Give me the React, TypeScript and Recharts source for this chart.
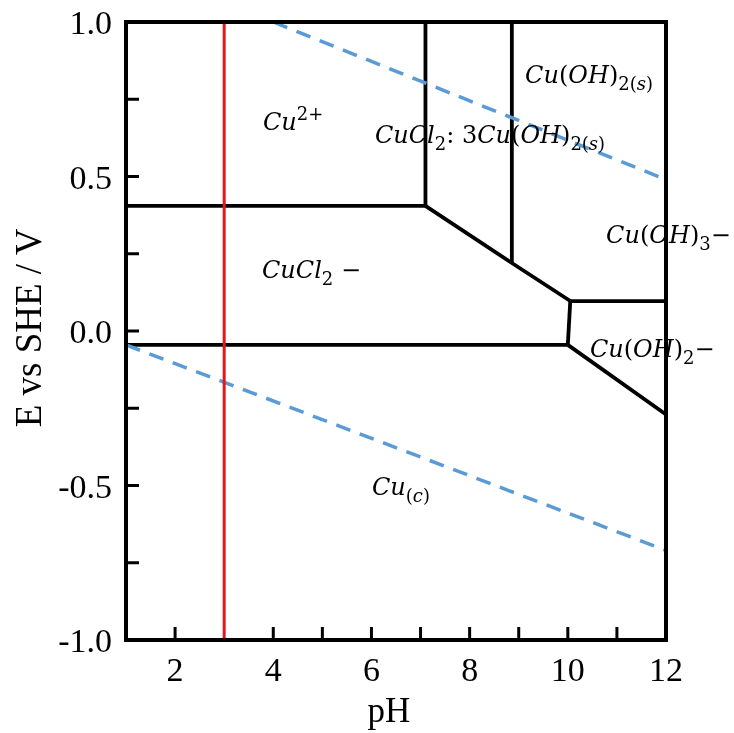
import React from 'react';
import { ComposedChart, Line, Scatter, XAxis, YAxis } from 'recharts';

// ---- axis ticks ----
const pHTicks = [2, 3, 4, 5, 6, 7, 8, 9, 10, 11, 12];
const pHLabels = [2, 4, 6, 8, 10, 12];
const eTicks = [-1, -0.75, -0.5, -0.25, 0, 0.25, 0.5, 0.75, 1];
const eLabels = [-1, -0.5, 0, 0.5, 1];

// ---- boundary lines (pH, E) ----
const cu2CuCl2Boundary = [{ x: 1, y: 0.405 }, { x: 7.1, y: 0.405 }];
const cu2BasicBoundary = [{ x: 7.1, y: 1 }, { x: 7.1, y: 0.405 }];
const basicHydroxideBoundary = [{ x: 8.86, y: 1 }, { x: 8.86, y: 0.22 }];
const cuCl2SolidBoundary = [{ x: 7.1, y: 0.405 }, { x: 8.86, y: 0.22 }, { x: 10.05, y: 0.097 }];
const hydroxide3Boundary = [{ x: 10.05, y: 0.097 }, { x: 12, y: 0.097 }];
const cuCl2Hydroxide2Boundary = [{ x: 10.05, y: 0.097 }, { x: 10.0, y: -0.045 }];
const cuCl2CuBoundary = [{ x: 1, y: -0.045 }, { x: 10.0, y: -0.045 }];
const hydroxide2CuBoundary = [{ x: 10.0, y: -0.045 }, { x: 12, y: -0.27 }];

// ---- water stability lines ----
const oxygenLine = [{ x: 4, y: 1 }, { x: 12, y: 0.49 }];
const hydrogenLine = [{ x: 1, y: -0.045 }, { x: 12, y: -0.71 }];

// ---- pH marker ----
const pHMarker = [{ x: 3, y: -1 }, { x: 3, y: 1 }];

// ---- region labels ----
const regionLabels = [
  { x: 3.79, y: 0.65, text: 'Cu^{2+}' },
  { x: 6.07, y: 0.608, text: 'CuCl_{2}: 3Cu(OH)_{2(s)}' },
  { x: 9.13, y: 0.803, text: 'Cu(OH)_{2(s)}' },
  { x: 10.78, y: 0.285, text: 'Cu(OH)_{3}\u2212' },
  { x: 3.77, y: 0.171, text: 'CuCl_{2} \u2212' },
  { x: 10.45, y: -0.084, text: 'Cu(OH)_{2}\u2212' },
  { x: 6.01, y: -0.531, text: 'Cu_{(c)}' },
];

const SERIF = '"Liberation Serif", "Times New Roman", serif';
const MATH = '"DejaVu Serif", serif';
const TICK = 13;
const MAIN_SIZE = 24;
const SUB_SIZE = 18;

function parseMarkup(s: string) {
  const out: { text: string; mode: string }[] = [];
  let i = 0;
  let buf = '';
  while (i < s.length) {
    if ((s[i] === '_' || s[i] === '^') && s[i + 1] === '{') {
      if (buf) out.push({ text: buf, mode: 'n' });
      buf = '';
      const end = s.indexOf('}', i);
      out.push({ text: s.slice(i + 2, end), mode: s[i] === '_' ? 'sub' : 'sup' });
      i = end + 1;
    } else {
      buf += s[i];
      i++;
    }
  }
  if (buf) out.push({ text: buf, mode: 'n' });
  return out;
}

function MathLabel(props: any) {
  const { cx, cy, payload } = props;
  if (cx == null || cy == null) return null;
  const segs = parseMarkup(payload.text);
  const spans: any[] = [];
  let cur = 0;
  let k = 0;
  segs.forEach((seg) => {
    const target = seg.mode === 'sub' ? 7 : seg.mode === 'sup' ? -10 : 0;
    const size = seg.mode === 'n' ? MAIN_SIZE : SUB_SIZE;
    const runs = seg.text.match(/[A-Za-z]+|[^A-Za-z]+/g) || [];
    runs.forEach((r) => {
      const dy = target - cur;
      cur = target;
      spans.push(
        <tspan
          key={k++}
          dy={dy}
          fontSize={size}
          fontStyle={/[A-Za-z]/.test(r) ? 'italic' : 'normal'}
        >
          {r}
        </tspan>
      );
    });
  });
  return (
    <text x={cx} y={cy} fontFamily={MATH} fill="#000" style={{ whiteSpace: 'pre' }}>
      {spans}
    </text>
  );
}

function BottomTick(props: any) {
  const { x, y, payload } = props;
  const v = payload.value;
  return (
    <g>
      {v < 12 && v !== 3 && <line x1={x} x2={x} y1={y} y2={y - TICK} stroke="#000" strokeWidth={3} />}
      {pHLabels.includes(v) && (
        <text x={x} y={y + 41} textAnchor="middle" fontFamily={SERIF} fontSize={34} fill="#000">
          {v}
        </text>
      )}
    </g>
  );
}

function TopTick(props: any) {
  const { x, y, payload } = props;
  const v = payload.value;
  if (v >= 12 || v === 3) return <g />;
  return <line x1={x} x2={x} y1={y} y2={y + TICK} stroke="#000" strokeWidth={3} />;
}

function LeftTick(props: any) {
  const { x, y, payload } = props;
  const v = payload.value;
  const isLabel = eLabels.some((l) => Math.abs(l - v) < 1e-9);
  return (
    <g>
      <line x1={x} x2={x + TICK} y1={y} y2={y} stroke="#000" strokeWidth={3} />
      {isLabel && (
        <text x={x - 14} y={y + 12} textAnchor="end" fontFamily={SERIF} fontSize={34} fill="#000">
          {v.toFixed(1)}
        </text>
      )}
    </g>
  );
}

function RightTick(props: any) {
  const { x, y, payload } = props;
  const v = payload.value;
  if (Math.abs(v) >= 1) return <g />;
  return <line x1={x} x2={x - TICK} y1={y} y2={y} stroke="#000" strokeWidth={3} />;
}

const axisLine = { stroke: '#000', strokeWidth: 4, strokeLinecap: 'square' as const };

export default function App() {
  const black = { stroke: '#000', strokeWidth: 3.8, dot: false, isAnimationActive: false, xAxisId: 'b', yAxisId: 'l', type: 'linear' as const };
  return (
    <div style={{ position: 'fixed', left: 0, top: 0, width: 734, height: 733 }}>
      <ComposedChart width={734} height={733} margin={{ top: 0, right: 0, bottom: 0, left: 0 }}>
        <XAxis
          xAxisId="b"
          dataKey="x"
          type="number"
          domain={[1, 12]}
          ticks={pHTicks}
          interval={0}
          height={93}
          tickSize={0}
          tickMargin={0}
          tickLine={false}
          axisLine={axisLine}
          tick={(p: any) => <BottomTick {...p} />}
          label={{
            content: () => (
              <text x={389} y={722} textAnchor="middle" fontFamily={SERIF} fontSize={35} fill="#000">
                pH
              </text>
            ),
          }}
        />
        <XAxis
          xAxisId="t"
          orientation="top"
          dataKey="x"
          type="number"
          domain={[1, 12]}
          ticks={pHTicks}
          interval={0}
          height={22}
          tickSize={0}
          tickMargin={0}
          tickLine={false}
          axisLine={axisLine}
          tick={(p: any) => <TopTick {...p} />}
        />
        <YAxis
          yAxisId="l"
          dataKey="y"
          type="number"
          domain={[-1, 1]}
          ticks={eTicks}
          interval={0}
          width={126}
          tickSize={0}
          tickMargin={0}
          tickLine={false}
          axisLine={axisLine}
          tick={(p: any) => <LeftTick {...p} />}
          label={{
            content: () => (
              <text
                x={41}
                y={328}
                textAnchor="middle"
                transform="rotate(-90 41 328)"
                fontFamily={SERIF}
                fontSize={37}
                fill="#000"
              >
                E vs SHE / V
              </text>
            ),
          }}
        />
        <YAxis
          yAxisId="r"
          orientation="right"
          dataKey="y"
          type="number"
          domain={[-1, 1]}
          ticks={eTicks}
          interval={0}
          width={68}
          tickSize={0}
          tickMargin={0}
          tickLine={false}
          axisLine={axisLine}
          tick={(p: any) => <RightTick {...p} />}
        />
        <Line data={cu2CuCl2Boundary} dataKey="y" {...black} />
        <Line data={cu2BasicBoundary} dataKey="y" {...black} />
        <Line data={basicHydroxideBoundary} dataKey="y" {...black} />
        <Line data={cuCl2SolidBoundary} dataKey="y" {...black} />
        <Line data={hydroxide3Boundary} dataKey="y" {...black} />
        <Line data={cuCl2Hydroxide2Boundary} dataKey="y" {...black} />
        <Line data={cuCl2CuBoundary} dataKey="y" {...black} />
        <Line data={hydroxide2CuBoundary} dataKey="y" {...black} />
        <Line data={oxygenLine} dataKey="y" xAxisId="b" yAxisId="l" stroke="#5b9bd5" strokeWidth={3.5} strokeDasharray="15 10" dot={false} isAnimationActive={false} />
        <Line data={hydrogenLine} dataKey="y" xAxisId="b" yAxisId="l" stroke="#5b9bd5" strokeWidth={3.5} strokeDasharray="15 10" dot={false} isAnimationActive={false} />
        <Line data={pHMarker} dataKey="y" xAxisId="b" yAxisId="l" stroke="#e3171b" strokeWidth={3} dot={false} isAnimationActive={false} />
        <Scatter
          data={regionLabels}
          dataKey="y"
          xAxisId="b"
          yAxisId="l"
          isAnimationActive={false}
          shape={(p: any) => <MathLabel {...p} />}
        />
      </ComposedChart>
    </div>
  );
}
